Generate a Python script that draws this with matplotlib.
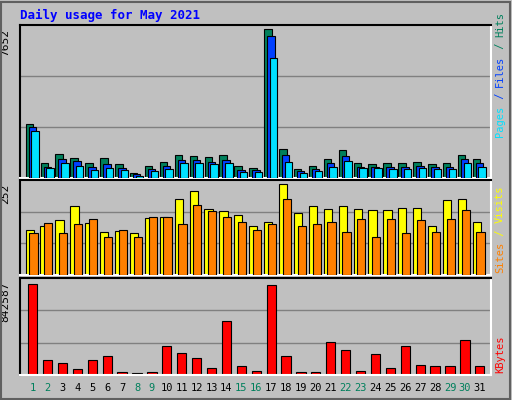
import matplotlib
matplotlib.use("Agg")
import matplotlib.pyplot as plt
from matplotlib.patches import Rectangle

days = list(range(1, 32))
weekend = [1, 2, 8, 9, 15, 16, 22, 23, 29, 30]
hits  = [2780,750,1230,1020,750,1020,700,270,640,800,1180,1120,1070,1180,640,535,7652,1500,480,640,960,1440,750,700,750,750,800,700,750,1180,960]
files = [2620,590,960,860,590,700,535,215,480,640,910,910,800,910,430,430,7300,1180,375,480,750,1120,590,590,590,590,640,590,590,960,750]
pages = [2410,535,750,640,430,535,430,110,375,480,750,750,700,750,320,320,6200,800,270,375,590,860,535,535,480,480,535,480,480,750,590]
visits = [126,137,151,190,143,118,123,115,157,160,210,232,182,176,165,137,148,252,171,190,182,190,182,179,179,185,185,137,207,210,146]
sites  = [115,143,115,140,154,106,126,106,162,160,140,193,176,160,148,126,140,210,137,140,148,118,154,106,154,115,151,118,154,179,118]
kbytes = [842587,139000,111000,55000,139000,176000,28000,18000,28000,268000,204000,157000,65000,500000,83000,37000,833000,176000,28000,28000,305000,231000,37000,194000,65000,268000,93000,83000,83000,324000,83000]

BG = "#C0C0C0"
mono = "DejaVu Sans Mono"
fig = plt.figure(figsize=(5.12, 4.0), dpi=100, facecolor=BG)
fig.patches.append(Rectangle((0.002, 0.002), 0.994, 0.994, transform=fig.transFigure,
                             fill=False, edgecolor="#606060", lw=1.5))
fig.text(20/512, 1-15/400, "Daily usage for May 2021", color="#0000FF", fontsize=9,
         fontweight="bold", family=mono, va="center", ha="left")

L, W = 20/512, 471/512
def mkax(top, bot):
    ax = fig.add_axes([L, 1-bot/400, W, (bot-top)/400])
    ax.set_facecolor(BG)
    ax.set_xlim(0.15, 31.75)
    ax.set_xticks([]); ax.set_yticks([])
    for s in ["top", "left"]:
        ax.spines[s].set_color("black"); ax.spines[s].set_linewidth(1.5)
    for s in ["bottom", "right"]:
        ax.spines[s].set_color("white"); ax.spines[s].set_linewidth(1.5)
    return ax

def grid(ax, ymax):
    for f in (1/3, 2/3):
        ax.axhline(ymax*f, color="#808080", lw=1, zorder=0)

def side(ax, parts, y0):
    x = 1.0 + 9/471
    y = y0
    r = fig.canvas.get_renderer()
    for txt, col in parts:
        t = ax.text(x, y, txt, transform=ax.transAxes, rotation=90, color=col,
                    fontsize=7.5, family=mono, ha="center", va="bottom")
        bb = t.get_window_extent(renderer=r)
        y += bb.height / ax.get_window_extent(renderer=r).height

ew = 0.8
ax1 = mkax(25, 178)
top1 = max(hits)*1.03
ax1.set_ylim(0, top1); grid(ax1, top1)
ax1.bar([d-0.22 for d in days], hits, width=0.5, color="#00805C", edgecolor="black", lw=ew, zorder=2)
ax1.bar([d-0.02 for d in days], files, width=0.5, color="#0040FF", edgecolor="black", lw=ew, zorder=3)
ax1.bar([d+0.16 for d in days], pages, width=0.5, color="#00E0FF", edgecolor="black", lw=ew, zorder=4)
ax1.text(-0.02, 1-4/153, str(max(hits)), transform=ax1.transAxes, rotation=90, ha="right", va="top", fontsize=8, family=mono)
side(ax1, [("Pages", "#00E0FF"), (" / ", "#0040FF"), ("Files", "#0040FF"), (" / ", "#00805C"), ("Hits", "#00805C")], 0.27)

ax2 = mkax(180, 275)
top2 = max(visits)*1.044
ax2.set_ylim(0, top2); grid(ax2, top2)
ax2.bar([d-0.2 for d in days], visits, width=0.55, color="#FFFF00", edgecolor="black", lw=ew, zorder=2)
ax2.bar([d+0.05 for d in days], sites, width=0.55, color="#FF8000", edgecolor="black", lw=ew, zorder=3)
ax2.text(-0.02, 1-4/95, str(max(visits)), transform=ax2.transAxes, rotation=90, ha="right", va="top", fontsize=8, family=mono)
side(ax2, [("Sites", "#FF8000"), (" / ", "#FFFF00"), ("Visits", "#FFFF00")], 0.02)

ax3 = mkax(278, 375)
top3 = max(kbytes)*1.066
ax3.set_ylim(0, top3); grid(ax3, top3)
ax3.bar(days, kbytes, width=0.62, color="#FF0000", edgecolor="black", lw=ew, zorder=2)
ax3.text(-0.02, 1-4/97, str(max(kbytes)), transform=ax3.transAxes, rotation=90, ha="right", va="top", fontsize=8, family=mono)
side(ax3, [("KBytes", "#FF0000")], 0.02)

for d in days:
    ax3.text(d, -13/97, str(d), transform=ax3.get_xaxis_transform(), ha="center", va="center",
             fontsize=7.5, family=mono, color="#00805C" if d in weekend else "black")

fig.savefig("out.png", dpi=100, facecolor=BG)
